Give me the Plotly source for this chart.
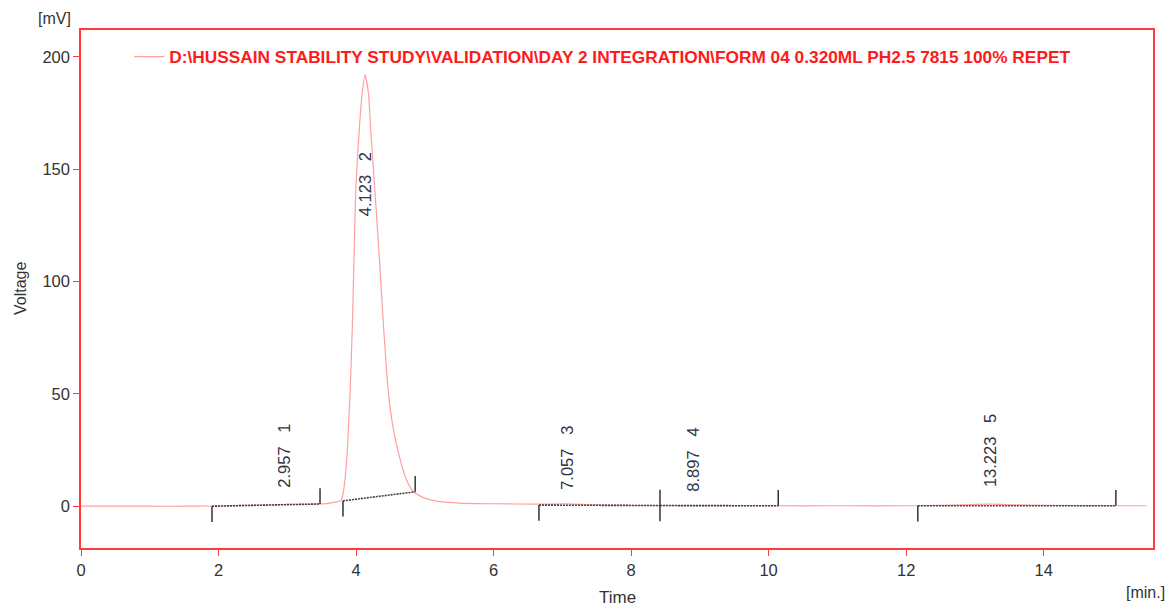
import plotly.graph_objects as go

# Chromatogram trace
time_min = [0.0, 1.0, 1.5, 1.9, 2.5, 3.0, 3.47, 3.6, 3.7, 3.78, 3.815, 3.865, 3.913,
            3.946, 3.97, 3.995, 4.05, 4.09, 4.13, 4.18, 4.21, 4.276, 4.34, 4.40, 4.47,
            4.55, 4.64, 4.73, 4.83, 4.93, 5.0, 5.1, 5.25, 5.5, 6.0, 6.63, 7.06, 7.5, 8.4,
            10.0, 11.0, 12.15, 12.8, 13.22, 13.6, 14.5, 15.0, 15.5]
voltage_mv = [0.0, 0.0, 0.0, 0.1, 0.5, 0.8, 1.0, 1.3, 1.8, 2.5, 6.2, 21.0, 50.7,
              80.0, 110.0, 139.6, 169.0, 184.0, 192.0, 184.0, 169.0, 139.6, 110.0, 80.0, 50.7,
              33.0, 21.0, 12.0, 6.6, 4.6, 3.6, 2.7, 1.9, 1.4, 1.1, 0.9, 1.0, 0.6, 0.3,
              0.2, 0.2, 0.2, 0.6, 0.9, 0.6, 0.3, 0.2, 0.2]

# Integration results
peak_ids = ["1", "2", "3", "4", "5"]
peak_rt = [2.957, 4.123, 7.057, 8.897, 13.223]
peak_start = [1.905, 3.81, 6.66, 8.42, 12.17]
peak_end = [3.476, 4.86, 8.42, 10.14, 15.05]
base_start = [0.0, 2.4, 0.5, 0.3, 0.2]
base_end = [1.0, 6.4, 0.3, 0.2, 0.2]
label_bottom = [7.5, 128.0, 6.5, 5.5, 7.5]

x_ticks = [0, 2, 4, 6, 8, 10, 12, 14]
y_ticks = [0, 50, 100, 150, 200]

legend_name = "D:\\HUSSAIN STABILITY STUDY\\VALIDATION\\DAY 2 INTEGRATION\\FORM 04 0.320ML PH2.5 7815 100% REPET"

RED = "#ff3b3b"
FONT = "Liberation Sans, Arial"
TICK_H = 7.0

fig = go.Figure()

fig.add_trace(go.Scatter(
    x=time_min, y=voltage_mv, mode="lines", name=legend_name,
    line=dict(color="#ffa0a0", width=1.2, shape="spline", smoothing=0.6),
))

# baselines
bx, by = [], []
for s, e, b0, b1 in zip(peak_start, peak_end, base_start, base_end):
    bx += [s, e, None]
    by += [b0, b1, None]
fig.add_trace(go.Scatter(x=bx, y=by, mode="lines", showlegend=False, hoverinfo="skip",
                         line=dict(color="#444444", width=1.6, dash="2px,1px")))

# start/end ticks
tx, ty = [], []
for s, e, b0, b1 in zip(peak_start, peak_end, base_start, base_end):
    tx += [s, s, None, e, e, None]
    ty += [b0, b0 - TICK_H, None, b1, b1 + TICK_H, None]
fig.add_trace(go.Scatter(x=tx, y=ty, mode="lines", showlegend=False, hoverinfo="skip",
                         line=dict(color="#333333", width=1.5)))

for pid, rt, yb in zip(peak_ids, peak_rt, label_bottom):
    fig.add_annotation(x=rt, y=yb, xref="x", yref="y", text=f"{rt:.3f}\u00a0\u00a0\u00a0{pid}",
                       textangle=-90, showarrow=False, xanchor="center", yanchor="bottom",
                       font=dict(family=FONT, size=16.5, color="#333344"))

fig.add_annotation(x=0, y=1, xref="paper", yref="paper", text="[mV]", showarrow=False,
                   xanchor="right", yanchor="bottom", xshift=-8, yshift=1,
                   font=dict(family=FONT, size=16, color="#333333"))
fig.add_annotation(x=1, y=0, xref="paper", yref="paper", text="[min.]", showarrow=False,
                   xanchor="right", yanchor="middle", xshift=14, yshift=-44,
                   font=dict(family=FONT, size=16, color="#333333"))
fig.add_annotation(x=0.5, y=0, xref="paper", yref="paper", text="Time", showarrow=False,
                   xanchor="center", yanchor="middle", xshift=0, yshift=-49,
                   font=dict(family=FONT, size=17, color="#333333"))
fig.add_annotation(x=0, y=0.5, xref="paper", yref="paper", text="Voltage", showarrow=False,
                   textangle=-90, xanchor="center", yanchor="middle", xshift=-61,
                   font=dict(family=FONT, size=16, color="#333333"))

axis_common = dict(showline=True, linecolor=RED, linewidth=1.5, mirror=True,
                   ticks="outside", tickcolor=RED, ticklen=6, tickwidth=1,
                   showgrid=False, zeroline=False, automargin=False,
                   tickfont=dict(family=FONT, size=16.5, color="#333333"))

fig.update_layout(
    width=1169, height=606,
    margin=dict(l=81, r=16, t=30, b=58),
    plot_bgcolor="white", paper_bgcolor="white",
    xaxis=dict(range=[0, 15.59], tickvals=x_ticks, **axis_common),
    yaxis=dict(range=[-18.6, 212], tickvals=y_ticks, **axis_common),
    legend=dict(x=0.045, y=0.948, xanchor="left", yanchor="middle", orientation="h",
                bgcolor="rgba(0,0,0,0)",
                font=dict(family=FONT, size=17.3, color="#ff1a1a", weight="bold")),
    showlegend=True,
)

fig.write_html("out.html")
